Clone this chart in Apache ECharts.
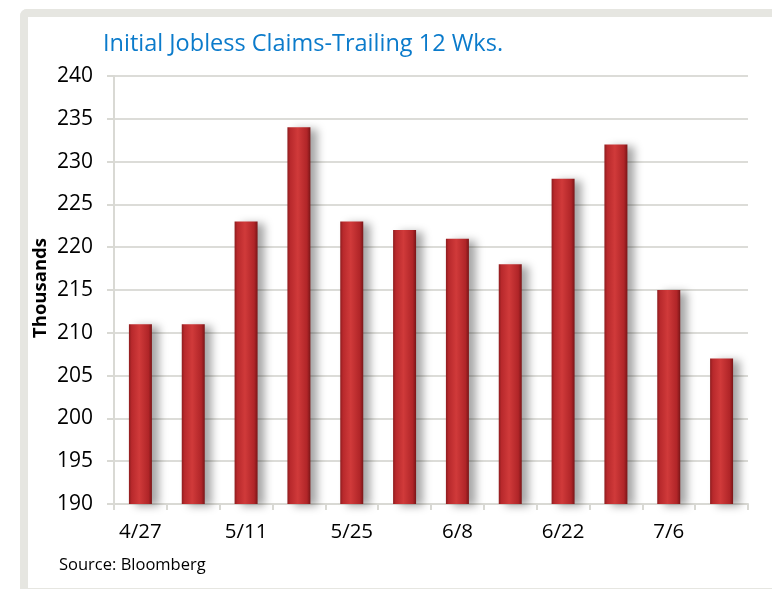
<!DOCTYPE html>
<html>
<head>
<meta charset="UTF-8">
<title>Initial Jobless Claims</title>
<style type="text/css">
	html, body { margin: 0; padding: 0; background: #fff; }
	#frame {
		position: absolute;
		left: 20px; top: 9px;
		width: 760px; height: 571px;
		border-top: 8px solid #e6e6e1;
		border-left: 8px solid #e6e6e1;
		border-bottom: 1px solid #e6e6e1;
		border-top-left-radius: 7px;
	}
	#chart { position: absolute; left: 0; top: 0; width: 772px; height: 589px; }
</style>
</head>
<body>
<div id="frame"></div>
<div id="chart"></div>
<script src="https://cdn.jsdelivr.net/npm/echarts@6/dist/echarts.min.js"></script>
<script>
// weeks (every other one is labelled)
var weeks = ['4/27', '5/4', '5/11', '5/18', '5/25', '6/1', '6/8', '6/15', '6/22', '6/29', '7/6', '7/13'];
// claims, thousands
var claims = [211, 211, 223, 234, 223, 222, 221, 218, 228, 232, 215, 207];
var yTicks = [190, 195, 200, 205, 210, 215, 220, 225, 230, 235, 240];

var font = '"Open Sans", "Noto Sans", sans-serif';
var chart = echarts.init(document.getElementById('chart'));

var option = {
	animation: false,
	backgroundColor: 'transparent',
	grid: { left: 114, right: 24, top: 76, bottom: 85 },
	graphic: [
		{ type: 'text', x: 103, y: 44,
		  style: { text: 'Initial Jobless Claims-Trailing 12 Wks.', fill: '#0b7bcb', font: '23.5px ' + font, verticalAlign: 'middle' } },
		{ type: 'text', x: 41, y: 288, rotation: Math.PI / 2,
		  style: { text: 'Thousands', fill: '#000', font: 'bold 18.5px ' + font, align: 'center', verticalAlign: 'middle' } },
		{ type: 'text', x: 59, y: 565,
		  style: { text: 'Source: Bloomberg', fill: '#000', font: '16.5px ' + font, verticalAlign: 'middle' } }
	],
	xAxis: {
		type: 'category',
		data: weeks,
		axisLine: { lineStyle: { color: '#d9d9d4', width: 2 } },
		axisTick: { show: true, interval: 0, length: 6, lineStyle: { color: '#d9d9d4', width: 2 } },
		axisLabel: { interval: 1, color: '#000', fontSize: 20.5, fontFamily: font, margin: 18 }
	},
	yAxis: {
		type: 'value',
		min: yTicks[0],
		max: yTicks[yTicks.length - 1],
		interval: 5,
		axisLine: { show: true, lineStyle: { color: '#d9d9d4', width: 2 } },
		axisTick: { show: true, length: 7, lineStyle: { color: '#d9d9d4', width: 2 } },
		axisLabel: { color: '#000', fontSize: 21, fontFamily: font, margin: 21 },
		splitLine: { lineStyle: { color: '#dcdcd8', width: 2 } }
	},
	series: [{
		type: 'bar',
		data: claims,
		barWidth: 23,
		itemStyle: {
			color: new echarts.graphic.LinearGradient(0, 0, 1, 0, [
				{ offset: 0, color: '#8e1c1e' },
				{ offset: 0.12, color: '#b8292c' },
				{ offset: 0.45, color: '#d03a3a' },
				{ offset: 0.85, color: '#b02528' },
				{ offset: 1, color: '#7a1517' }
			]),
			shadowColor: 'rgba(0,0,0,0.35)',
			shadowBlur: 9,
			shadowOffsetX: 7,
			shadowOffsetY: 2
		}
	}]
};
chart.setOption(option);
</script>
</body>
</html>
